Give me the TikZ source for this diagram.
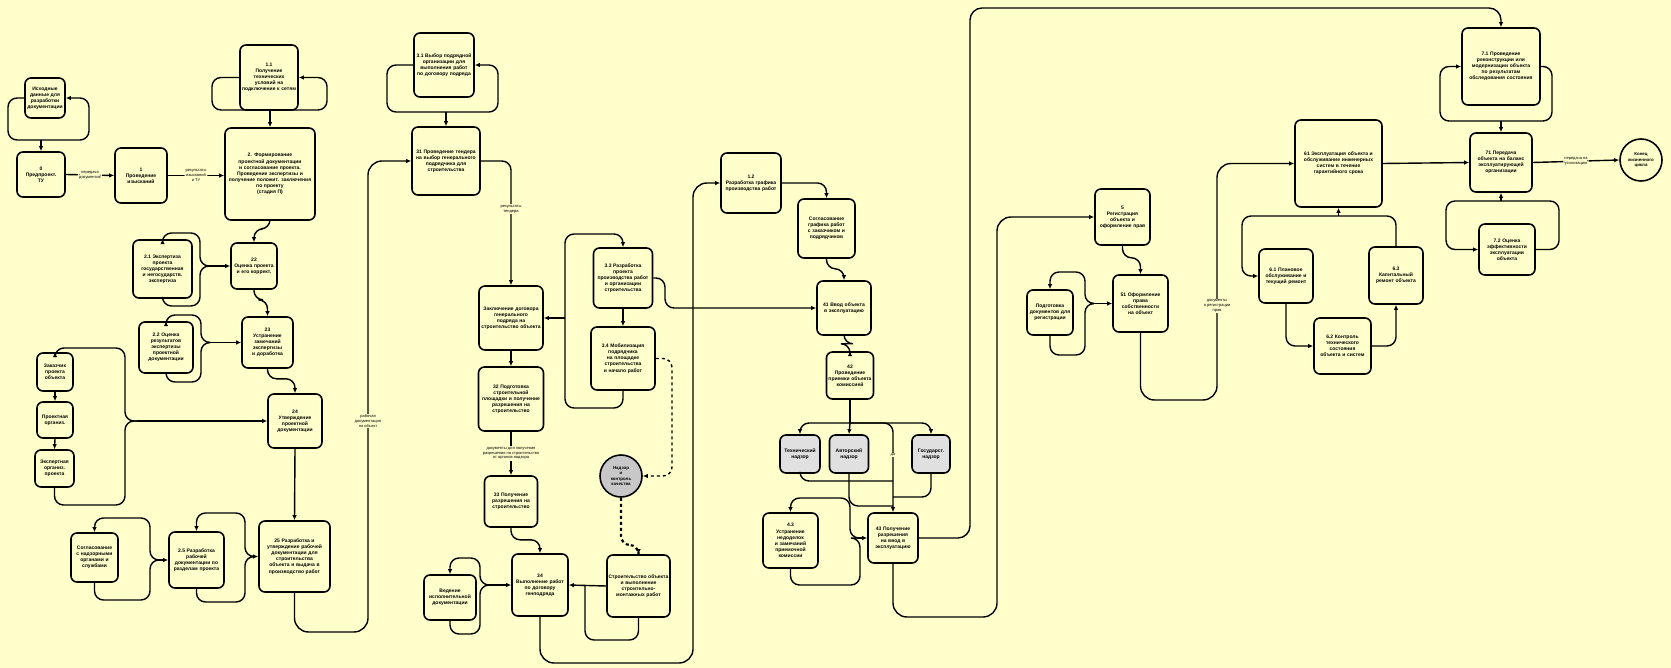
\documentclass[tikz,border=0pt]{standalone}
\usepackage{fontspec}
\setmainfont{Liberation Sans}
\usetikzlibrary{arrows.meta}
\definecolor{bgc}{HTML}{FFFFCC}
\definecolor{gfill}{HTML}{E0E0E0}
\definecolor{cfill}{HTML}{C8C8C8}
\begin{document}
\begin{tikzpicture}[x=1pt,y=-1pt,
  box/.style={draw, line width=1.6pt, rounded corners=6pt, fill=bgc, align=center, inner sep=1pt, font=\fontsize{5}{6.1}\selectfont\bfseries},
  bx/.style n args={3}{box, minimum width=#1, minimum height=#2, text width=#3},
  gbx/.style n args={3}{bx={#1}{#2}{#3}, fill=gfill},
  circ/.style={draw, circle, line width=1.6pt, align=center, inner sep=0pt, minimum size=42, font=\fontsize{4.4}{5.3}\selectfont\bfseries},
  ln/.style={draw, line width=1.4pt, rounded corners=9pt},
  arr/.style={ln, -{Latex[length=5pt,width=4.5pt]}},
  lbl/.style={fill=bgc, inner sep=1pt, align=center, font=\fontsize{4}{4.8}\selectfont}]
\fill[bgc] (0,0) rectangle (1671,668);
\useasboundingbox (0,0) rectangle (1671,668);

% ---- nodes
\node[bx={40}{40}{37}] (A) at (45,98) {Исходные данные для разработки документации};
\node[bx={48}{45}{45}] (B) at (41,174.5) {0\\Предпроект.\\ТУ};
\node[bx={52}{55}{49}] (C) at (141,175.5) {1\\Проведение\\изысканий};
\node[bx={58}{65}{55}] (D) at (269,77.5) {1.1\\Получение технических условий на подключение к сетям};
\node[bx={90}{92}{87}] (E) at (270,174) {2. Формирование\\проектной документации и согласование проекта. Проведение экспертизы и получение положит. заключения\\по проекту\\(стадия П)};
\node[bx={59}{58}{56}] (F) at (162.5,269) {2.1 Экспертиза проекта государственная и негосударств. экспертиза};
\node[bx={46}{46}{43}] (G) at (254,266) {22\\Оценка проекта и его коррект.};
\node[bx={54}{51}{51}] (H) at (166,347.5) {2.2 Оценка результатов экспертизы проектной документации};
\node[bx={51}{51}{48}] (I) at (267.5,342.5) {23\\Устранение замечаний экспертизы и доработка};
\node[bx={54}{54}{51}] (J) at (295,421) {24\\Утверждение проектной документации};
\node[bx={36}{38}{34}] (K1) at (55,372) {Заказчик проекта объекта};
\node[bx={36}{36}{34}] (K2) at (55,420) {Проектная организ.};
\node[bx={39}{37}{37}] (K3) at (54.5,468.5) {Экспертная организ. проекта};
\node[bx={47}{49}{45}] (M) at (94.5,557.5) {Согласование с надзорными органами и службами};
\node[bx={55}{56}{52}] (N) at (196.5,560) {2.5 Разработка рабочей документации по разделам проекта};
\node[bx={71}{71}{68}] (L) at (294.5,556.5) {25 Разработка и утверждение рабочей документации для строительства объекта и выдача в производство работ};
\node[bx={60}{64}{57}] (P) at (444,65) {3.1 Выбор подрядной организации для выполнения работ по договору подряда};
\node[bx={68}{68}{65}] (O) at (446,161) {31 Проведение тендера на выбор генерального подрядчика для строительства};
\node[bx={64}{64}{61}] (Q) at (511,318) {Заключение договора генерального подряда на строительство объекта};
\node[bx={65}{64}{62}] (R) at (511,399) {32 Подготовка строительной площадки и получение разрешения на строительство};
\node[bx={53}{51}{50}] (S) at (511,501.5) {33 Получение разрешения на строительство};
\node[bx={59}{60}{56}] (T) at (623,278) {3.3 Разработка проекта производства работ и организации строительства};
\node[bx={64}{63}{61}] (U) at (623,358.5) {3.4 Мобилизация подрядчика на площадке строительства и начало работ};
\node[circ, fill=cfill] (W) at (621,476) {Надзор\\и\\контроль\\качества};
\node[bx={63}{62}{60}] (X) at (638.5,586) {Строительство объекта и выполнение строительно-монтажных работ};
\node[bx={56}{62}{53}] (Y) at (540,585) {34\\Выполнение работ по договору генподряда};
\node[bx={52}{45}{49}] (Y0) at (450,597.5) {Ведение исполнительной документации};
\node[bx={60}{60}{57}] (Z) at (751,183) {1.2\\Разработка графика производства работ};
\node[bx={57}{59}{54}] (AA) at (826.5,228.5) {Согласование графика работ с заказчиком и подрядчиком};
\node[bx={54}{54}{51}] (V) at (844,308) {41 Ввод объекта в эксплуатацию};
\node[bx={47}{47}{44}] (AB) at (850,375.5) {42\\Проведение приемки объекта комиссией};
\node[gbx={40}{38}{38}] (G1) at (800,454) {Технический\\надзор};
\node[gbx={39}{38}{37}] (G2) at (849,454) {Авторский\\надзор};
\node[gbx={38}{38}{36}] (G3) at (931,454) {Государст.\\надзор};
\node[bx={55}{55}{52}] (AE) at (790.5,540.5) {4.3\\Устранение недоделок и замечаний приемочной комиссии};
\node[bx={50}{50}{47}] (AC) at (893,538) {43 Получение разрешения на ввод в эксплуатацию};
\node[bx={55}{56}{52}] (AF) at (1122.5,217) {5\\Регистрация объекта и оформление прав};
\node[bx={46}{45}{43}] (AG) at (1050,312.5) {Подготовка документов для регистрации};
\node[bx={55}{57}{52}] (AH) at (1140.5,303.5) {51 Оформление права собственности на объект};
\node[bx={87}{87}{84}] (AI) at (1338.5,163.5) {61 Эксплуатация объекта и обслуживание инженерных систем в течение гарантийного срока};
\node[bx={54}{54}{51}] (AJ) at (1286,276) {6.1 Плановое обслуживание и текущий ремонт};
\node[bx={57}{56}{54}] (AK) at (1342.5,346) {6.2 Контроль технического состояния объекта и систем};
\node[bx={54}{57}{51}] (AL) at (1396,275.5) {6.3\\Капитальный ремонт объекта};
\node[bx={78}{77}{75}] (AD) at (1501,66.5) {7.1 Проведение реконструкции или модернизации объекта по результатам обследования состояния};
\node[bx={62}{59}{59}] (AM) at (1501,162.5) {71 Передача объекта на баланс эксплуатирующей организации};
\node[bx={56}{51}{53}] (AO) at (1507,249.5) {7.2 Оценка эффективности эксплуатации объекта};
\node[circ, fill=bgc] (AN) at (1641,160) {Конец\\жизненного\\цикла};

% ---- connectors
\coordinate (j1) at (41,140);
\draw[arr] (j1) -- (B.north);
\draw[arr] (j1) -| (89,98) -- (A.east);
\draw[ln] (A.west) -| (8,140) -- (j1);

\draw[arr] (B.east) -- node[lbl] (l1) {передача\\документов} (C.west);
\draw[arr] (C.east) -- node[lbl] (l2) {результаты\\изысканий\\и ТУ} (E.west |- C.east);

\coordinate (j2) at (270,110);
\draw[ln] (D.west) -| (212,110) -- (j2);
\draw[arr] (j2) -| (327,77.5) -- (D.east);
\draw[arr] (j2) -- (E.north);

\draw[arr] (E.south) -- ++(0,8) -| (G.north);

\coordinate (j3) at (207,266);
\draw[arr] (j3) -| (200,233) -| (F.north);
\draw[ln] (F.south) |- (200,306) |- (j3);
\draw[arr] (j3) -- (G.west);

\draw[arr] (G.south) -- ++(0,10) -| (I.north);

\coordinate (j4) at (208,342.5);
\draw[arr] (j4) -| (201,315) -| (H.north);
\draw[ln] (H.south) |- (201,382) |- (j4);
\draw[arr] (j4) -- (I.west);

\draw[arr] (I.south) -- ++(0,10) -| (J.north);

\draw[arr] (K1.south) -- (K2.north);
\draw[arr] (K2.south) -- (K3.north);
\coordinate (j5) at (137,421);
\draw[arr] (j5) -| (125,348) -| (K1.north);
\draw[ln] (K3.south) |- (125,505) |- (j5);
\draw[arr] (j5) -- (J.west);

\draw[arr] (J.south) -- (L.north);

\coordinate (j6) at (157,560);
\draw[arr] (j6) -| (150,518) -| (M.north);
\draw[ln] (M.south) |- (150,600) |- (j6);
\draw[arr] (j6) -- (N.west);

\coordinate (j7) at (250,556.5);
\draw[arr] (j7) -| (245,513) -| (N.north);
\draw[ln] (N.south) |- (245,602) |- (j7);
\draw[arr] (j7) -- (L.west);

\draw[arr, rounded corners=14pt] (L.south) |- (368,632) |- (O.west);
\node[lbl] (l3) at (368,421) {рабочая\\документация\\на объект};

\coordinate (j8) at (446,112);
\draw[ln] (P.west) -| (387,112) -- (j8);
\draw[arr] (j8) -| (498,65) -- (P.east);
\draw[arr] (j8) -- (O.north);

\draw[arr] (O.east) -| (Q.north);
\node[lbl] (l4) at (511,209) {результаты\\тендера};
\draw[arr] (Q.south) -- (R.north);
\draw[arr] (R.south) -- node[lbl] (l5) {документы для получения\\разрешения на строительство\\от органов надзора} (S.north);

\coordinate (j9) at (565,318);
\draw[arr] (j9) -- (565,234) -| (T.north);
\draw[ln] (U.south) |- (565,408) -- (j9);
\draw[arr] (j9) -- (Q.east);
\draw[arr] (T.south) -- (U.north);

\draw[arr] (T.east) -| (665,308) -- (V.west);
\draw[arr, dashed] (U.east) -| (672,476) -- (W.east);
\draw[arr, dashed, line width=2.2pt] (W.south) -- (621,545) -| (X.north);

\coordinate (j10) at (585,586);
\draw[arr] (X.west) -- (Y.east);
\draw[ln] (X.south) |- (585,640) -- (j10);

\coordinate (j11) at (486,585);
\draw[arr] (j11) -| (480,558) -| (Y0.north);
\draw[ln] (Y0.south) |- (480,634) |- (j11);
\draw[arr] (j11) -- (Y.west);

\draw[arr] (S.south) -- ++(0,12) -| (Y.north);
\draw[arr, rounded corners=14pt] (Y.south) |- (693,663) |- (Z.west);

\draw[arr] (Z.east) -| (AA.north);
\draw[arr] (AA.south) -- ++(0,10) -| (V.north);
\draw[arr] (V.south) -- ++(0,8) -| (AB.north);

\coordinate (j12) at (850,423);
\draw[ln] (AB.south) -- (j12);
\draw[arr] (j12) -| (G1.north);
\draw[arr] (j12) -- (G2.north);
\draw[arr] (j12) -| (G3.north);
\draw[arr] (j12) -| (AC.north);
\node[lbl] (l6) at (893,455) {да};
\draw[ln] (G1.south) |- (893,481);
\draw[ln] (G2.south) |- (893,506);
\draw[ln] (G3.south) |- (893,497);

\coordinate (j13) at (857,538);
\draw[arr] (j13) -| (850,498) -| (AE.north);
\draw[ln] (AE.south) |- (860,585) |- (j13);
\draw[arr] (j13) -- (AC.west);

\draw[arr, rounded corners=12pt] (AC.east) -| (970,8) -| (AD.north);
\draw[arr, rounded corners=14pt] (AC.south) |- (997,617) |- (AF.west);

\draw[arr] (AF.south) -- ++(0,12) -| (AH.north);
\coordinate (j14) at (1090,303.5);
\draw[arr] (j14) -| (1085,272) -| (AG.north);
\draw[ln] (AG.south) |- (1085,355) |- (j14);
\draw[arr] (j14) -- (AH.west);

\draw[arr, rounded corners=14pt] (AH.south) |- (1217,400) |- (AI.west);
\node[lbl] (l7) at (1217,306) {документы\\о регистрации\\прав};

\coordinate (j15) at (1338.5,216);
\draw[ln] (AL.north) |- (j15);
\draw[arr] (j15) -- (AI.south);
\draw[arr] (j15) -| (1242,276) -- (AJ.west);
\draw[arr] (AJ.south) |- (AK.west);
\draw[arr] (AK.east) -| (AL.south);

\draw[arr] (AI.east) -- (AM.west);
\draw[arr] (AM.east) -- node[lbl] (l8) {передача на\\утилизацию} (AN.west);

\coordinate (j16) at (1501,121);
\draw[arr] (j16) -| (1440,66.5) -- (AD.west);
\draw[ln] (AD.east) -| (1552,121) -- (j16);
\draw[arr] (j16) -- (AM.north);

\coordinate (j17) at (1501,201);
\draw[arr] (j17) -- (AM.south);
\draw[arr] (j17) -| (1446,249.5) -- (AO.west);
\draw[ln] (AO.east) -| (1559,201) -- (j17);
\end{tikzpicture}
\end{document}
